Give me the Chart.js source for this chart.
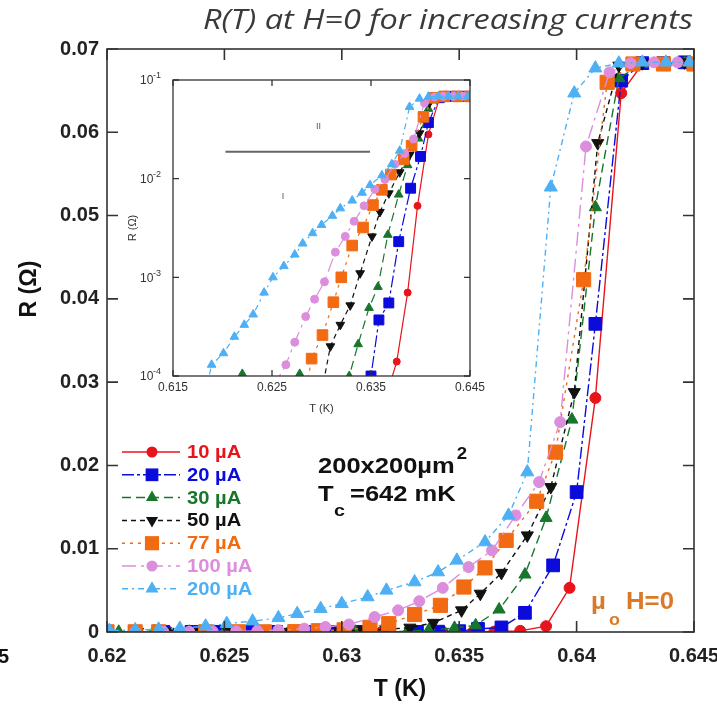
<!DOCTYPE html>
<html lang="en">
<head>
<meta charset="UTF-8">
<title>R(T) at H=0 for increasing currents</title>
<script src="https://cdn.jsdelivr.net/npm/chart.js"></script>
<style>
  body { margin: 0; background: #fff; }
  .wrap { position: relative; width: 717px; height: 708px; background: #fff; overflow: hidden; }
  #main { position: absolute; left: 0; top: 0; }
  #inset { position: absolute; left: 120px; top: 70px; }
</style>
</head>
<body>
<div class="wrap">
  <canvas id="main" width="717" height="708"></canvas>
  <canvas id="inset" width="380" height="350"></canvas>
</div>
<script>
// temperature (K) / resistance (ohm) per bias current
var t10 = [0.6200, 0.6213, 0.6226, 0.6239, 0.6252, 0.6265, 0.6278, 0.6291, 0.6304, 0.6317, 0.6330, 0.6343, 0.6356, 0.6365, 0.6376, 0.6387, 0.6397, 0.6408, 0.6419, 0.6428, 0.6437, 0.6446];
var r10 = [0.00002, 0.00002, 0.00002, 0.00002, 0.00002, 0.00002, 0.00002, 0.00002, 0.00002, 0.00002, 0.00002, 0.00002, 0.00003, 0.00006, 0.00014, 0.0007, 0.0053, 0.0281, 0.0647, 0.0682, 0.0683, 0.0683];

var t20 = [0.6200, 0.6212, 0.6224, 0.6236, 0.6248, 0.6260, 0.6272, 0.6284, 0.6296, 0.6308, 0.6320, 0.6332, 0.6341, 0.6350, 0.6358, 0.6368, 0.6378, 0.6390, 0.6400, 0.6408, 0.6419, 0.6428, 0.6437, 0.6446];
var r20 = [0.00002, 0.00002, 0.00002, 0.00002, 0.00002, 0.00002, 0.00002, 0.00002, 0.00002, 0.00002, 0.00002, 0.00002, 0.00004, 0.0001, 0.00037, 0.00055, 0.0023, 0.0080, 0.0168, 0.0370, 0.0662, 0.0683, 0.0683, 0.0684];

var t30 = [0.6205, 0.6220, 0.6235, 0.6250, 0.6264, 0.6278, 0.6292, 0.6306, 0.6318, 0.6328, 0.6337, 0.6348, 0.6357, 0.6367, 0.6378, 0.6387, 0.6398, 0.6408, 0.6418, 0.6428, 0.6437, 0.6446];
var r30 = [0.00003, 0.000105, 0.00003, 0.00003, 0.00003, 0.000105, 0.00003, 0.00003, 0.00003, 0.0001, 0.00021, 0.00049, 0.0008, 0.0027, 0.0069, 0.0137, 0.0255, 0.0510, 0.0665, 0.0682, 0.0683, 0.0683];

var t50 = [0.6200, 0.6213, 0.6226, 0.6239, 0.6252, 0.6265, 0.6278, 0.6290, 0.6299, 0.6309, 0.6319, 0.6329, 0.6339, 0.6351, 0.6359, 0.6368, 0.6379, 0.6389, 0.6399, 0.6409, 0.6418, 0.6428, 0.6437, 0.6446];
var r50 = [0.00002, 0.00002, 0.00002, 0.00002, 0.00002, 0.00002, 0.00002, 0.00002, 0.00006, 0.0002, 0.00033, 0.00052, 0.0011, 0.0026, 0.0046, 0.0071, 0.0116, 0.0174, 0.0288, 0.0587, 0.0680, 0.0683, 0.0683, 0.0684];

var t77 = [0.6200, 0.6212, 0.6222, 0.6242, 0.6256, 0.6267, 0.6280, 0.6290, 0.6301, 0.6312, 0.6320, 0.6331, 0.6342, 0.6352, 0.6361, 0.6370, 0.6383, 0.6391, 0.6403, 0.6413, 0.6424, 0.6437, 0.6450];
var r77 = [0.00002, 0.00002, 0.00002, 0.00002, 0.00002, 0.00002, 0.00004, 0.00015, 0.00026, 0.00056, 0.0010, 0.0021, 0.0032, 0.0054, 0.0077, 0.0110, 0.0157, 0.0216, 0.0423, 0.0660, 0.0682, 0.0682, 0.0682];

var t100 = [0.6200, 0.6212, 0.6224, 0.6235, 0.6245, 0.6255, 0.6264, 0.6273, 0.6284, 0.6293, 0.6303, 0.6314, 0.6324, 0.6333, 0.6343, 0.6354, 0.6364, 0.6374, 0.6384, 0.6393, 0.6404, 0.6414, 0.6423, 0.6433, 0.6443];
var r100 = [0.00002, 0.00002, 0.00002, 0.00003, 0.00006, 0.00009, 0.00013, 0.00022, 0.0004, 0.0006, 0.0009, 0.0018, 0.0026, 0.0037, 0.0053, 0.0078, 0.0098, 0.0140, 0.0180, 0.0252, 0.0583, 0.0672, 0.0683, 0.0684, 0.0684];

var t200 = [0.6180, 0.6189, 0.6201, 0.6212, 0.6222, 0.6231, 0.6242, 0.6251, 0.6262, 0.6273, 0.6281, 0.6291, 0.6300, 0.6311, 0.6319, 0.6331, 0.6341, 0.6349, 0.6361, 0.6371, 0.6379, 0.6389, 0.6399, 0.6408, 0.6418, 0.6428, 0.6438, 0.6448];
var r200 = [0.00005, 0.00013, 0.00017, 0.00025, 0.00033, 0.00042, 0.0007, 0.0010, 0.0013, 0.0017, 0.0022, 0.0028, 0.0034, 0.0042, 0.0050, 0.0060, 0.0072, 0.0086, 0.0108, 0.0140, 0.0192, 0.0534, 0.0647, 0.0677, 0.0683, 0.0684, 0.0684, 0.0684];

var currents = ['10 \u00b5A', '20 \u00b5A', '30 \u00b5A', '50 \u00b5A', '77 \u00b5A', '100 \u00b5A', '200 \u00b5A'];
var temps = [t10, t20, t30, t50, t77, t100, t200];
var resist = [r10, r20, r30, r50, r77, r100, r200];

var xTicks = [0.62, 0.625, 0.63, 0.635, 0.64, 0.645];
var yTicks = [0, 0.01, 0.02, 0.03, 0.04, 0.05, 0.06, 0.07];
var insetXTicks = [0.615, 0.625, 0.635, 0.645];
var insetYTicks = [1e-4, 1e-3, 1e-2, 1e-1];
var insetYLabels = ['-4', '-3', '-2', '-1'];

// look of each curve
var colors = ['#e8141c', '#0b0bdc', '#17762b', '#111111', '#f26a12', '#dc8edc', '#4db0f4'];
var shapes = ['circle', 'rect', 'triangle', 'triangle', 'rect', 'circle', 'triangle'];
var rotations = [0, 0, 0, 180, 0, 0, 0];
var dashes = [[], [12, 3, 3, 3], [9, 5], [5, 4], [3, 5], [14, 5, 3, 5], [6, 4, 2, 4]];
var sizeMain = [5.5, 9, 7, 7, 10, 5.5, 7.5];
var sizeInset = [3.5, 7, 5, 5, 7.5, 4, 5];

var SANS = '"Liberation Sans", Arial, sans-serif';

function makeSets(sizes, lw) {
    var sets = [];
    for (var i = 0; i < currents.length; i++) {
        var pts = [];
        for (var j = 0; j < temps[i].length; j++) {
            pts.push({ x: temps[i][j], y: resist[i][j] });
        }
        sets.push({
            label: currents[i],
            data: pts,
            borderColor: colors[i],
            backgroundColor: colors[i],
            borderWidth: lw,
            borderDash: dashes[i],
            pointStyle: shapes[i],
            pointRotation: rotations[i],
            pointRadius: sizes[i],
            pointBorderWidth: 1,
            pointBorderColor: colors[i],
            pointBackgroundColor: colors[i],
            tension: 0,
            order: currents.length - i
        });
    }
    return sets;
}

function marker(ctx, shape, x, y, r, rot) {
    ctx.beginPath();
    if (shape === 'circle') {
        ctx.arc(x, y, r, 0, Math.PI * 2);
    } else if (shape === 'rect') {
        var s = r * Math.SQRT1_2;
        ctx.rect(x - s, y - s, 2 * s, 2 * s);
    } else {
        var a = rot * Math.PI / 180;
        for (var k = 0; k < 3; k++) {
            var px = x + Math.sin(a) * r, py = y - Math.cos(a) * r;
            if (k === 0) ctx.moveTo(px, py); else ctx.lineTo(px, py);
            a += 2 * Math.PI / 3;
        }
        ctx.closePath();
    }
    ctx.fill();
}

// wide bold text, drawn slightly stretched sideways
function wideText(ctx, txt, x, y, size, stretch) {
    ctx.save();
    ctx.font = 'bold ' + size + 'px ' + SANS;
    ctx.translate(x, y);
    ctx.scale(stretch, 1);
    ctx.fillText(txt, 0, 0);
    var w = ctx.measureText(txt).width * stretch;
    ctx.restore();
    return w;
}

// frame with inward ticks on all four sides
function drawFrame(chart, len, lw) {
    var ctx = chart.ctx, a = chart.chartArea;
    var xs = chart.scales.x, ys = chart.scales.y;
    ctx.save();
    ctx.strokeStyle = '#333';
    ctx.lineWidth = lw;
    ctx.strokeRect(a.left, a.top, a.right - a.left, a.bottom - a.top);
    ctx.beginPath();
    xs.ticks.forEach(function (t) {
        var px = xs.getPixelForValue(t.value);
        ctx.moveTo(px, a.bottom); ctx.lineTo(px, a.bottom - len);
        ctx.moveTo(px, a.top); ctx.lineTo(px, a.top + len);
    });
    ys.ticks.forEach(function (t) {
        var py = ys.getPixelForValue(t.value);
        ctx.moveTo(a.left, py); ctx.lineTo(a.left + len, py);
        ctx.moveTo(a.right, py); ctx.lineTo(a.right - len, py);
    });
    ctx.stroke();
    ctx.restore();
}

var mainDecor = {
    id: 'mainDecor',
    afterDraw: function (chart) {
        var ctx = chart.ctx;
        drawFrame(chart, 11, 1.6);
        ctx.save();

        // title: 27.5px italic, stretched to run from x=203 to x=693
        var title = 'R(T) at H=0 for increasing currents';
        ctx.font = 'italic 27.5px "Open Sans", sans-serif';
        var sx = 490 / ctx.measureText(title).width;
        ctx.fillStyle = '#3a3a3a';
        ctx.textAlign = 'right';
        ctx.textBaseline = 'middle';
        ctx.save();
        ctx.translate(693, 21);
        ctx.scale(sx, 1);
        ctx.fillText(title, 0, 0);
        ctx.restore();

        // axis titles
        ctx.fillStyle = '#111';
        ctx.font = 'bold 23px ' + SANS;
        ctx.textAlign = 'center';
        ctx.fillText('T (K)', 400, 690);
        ctx.save();
        ctx.translate(30, 289);
        ctx.rotate(-Math.PI / 2);
        ctx.fillText('R (\u03a9)', 0, 0);
        ctx.restore();

        // clipped label at far left
        ctx.font = 'bold 20px ' + SANS;
        ctx.textAlign = 'left';
        ctx.fillText('5', -2, 657);

        // legend
        for (var i = 0; i < currents.length; i++) {
            var y = 452 + i * 22.8;
            ctx.strokeStyle = colors[i];
            ctx.fillStyle = colors[i];
            ctx.lineWidth = 1.5;
            ctx.setLineDash(dashes[i]);
            ctx.beginPath();
            ctx.moveTo(122, y); ctx.lineTo(180, y);
            ctx.stroke();
            ctx.setLineDash([]);
            marker(ctx, shapes[i], 152, y, sizeMain[i], rotations[i]);
            wideText(ctx, currents[i], 187, y + 1, 18, 1.12);
        }

        // sample notes
        ctx.fillStyle = '#111';
        var w = wideText(ctx, '200x200\u00b5m', 318, 467, 22, 1.16);
        wideText(ctx, '2', 318 + w + 2, 455, 16, 1.16);
        wideText(ctx, 'T', 318, 495, 22, 1.16);
        wideText(ctx, 'c', 334, 511, 17, 1.16);
        wideText(ctx, '=642 mK', 350, 495, 22, 1.16);

        ctx.fillStyle = '#d97a2a';
        wideText(ctx, '\u00b5', 591, 603, 23, 1.12);
        wideText(ctx, 'o', 609, 621, 16, 1.12);
        wideText(ctx, 'H=0', 626, 603, 23, 1.12);
        ctx.restore();
    }
};

new Chart(document.getElementById('main'), {
    type: 'line',
    data: { datasets: makeSets(sizeMain, 1.4) },
    options: {
        responsive: false,
        animation: false,
        layout: { padding: { top: 49, right: 23, left: 0, bottom: 0 } },
        plugins: { legend: { display: false }, tooltip: { enabled: false } },
        scales: {
            x: {
                type: 'linear', min: 0.62, max: 0.645,
                afterBuildTicks: function (s) { s.ticks = xTicks.map(function (v) { return { value: v }; }); },
                afterFit: function (s) { s.height = 76; s.paddingLeft = 0; s.paddingRight = 0; },
                grid: { display: false, drawTicks: false },
                border: { display: false },
                ticks: {
                    color: '#222', padding: 12, maxRotation: 0,
                    font: { family: SANS, size: 20, weight: 'bold' },
                    callback: function (v) { return String(v); }
                }
            },
            y: {
                type: 'linear', min: 0, max: 0.07,
                afterBuildTicks: function (s) { s.ticks = yTicks.map(function (v) { return { value: v }; }); },
                afterFit: function (s) { s.width = 107; s.paddingTop = 0; s.paddingBottom = 0; },
                grid: { display: false, drawTicks: false },
                border: { display: false },
                ticks: {
                    color: '#222', padding: 8,
                    font: { family: SANS, size: 20, weight: 'bold' },
                    callback: function (v) { return String(v); }
                }
            }
        }
    },
    plugins: [mainDecor]
});

var insetDecor = {
    id: 'insetDecor',
    afterDraw: function (chart) {
        var ctx = chart.ctx, a = chart.chartArea;
        var xs = chart.scales.x, ys = chart.scales.y;
        drawFrame(chart, 6, 1.3);
        ctx.save();
        ctx.fillStyle = '#333';
        ctx.textBaseline = 'middle';
        // decade labels
        for (var i = 0; i < insetYTicks.length; i++) {
            var py = ys.getPixelForValue(insetYTicks[i]);
            ctx.font = '12px ' + SANS;
            ctx.textAlign = 'left';
            ctx.fillText('10', a.left - 33, py + 1);
            ctx.font = '9px ' + SANS;
            ctx.fillText(insetYLabels[i], a.left - 20, py - 4);
        }
        // axis titles
        ctx.font = '11px ' + SANS;
        ctx.textAlign = 'center';
        ctx.fillText('T (K)', (a.left + a.right) / 2, 339);
        ctx.save();
        ctx.translate(13, 158);
        ctx.rotate(-Math.PI / 2);
        ctx.fillText('R (\u03a9)', 0, 0);
        ctx.restore();
        // regime boundary and labels
        ctx.strokeStyle = '#666';
        ctx.lineWidth = 2;
        ctx.beginPath();
        var yb = ys.getPixelForValue(0.0187);
        ctx.moveTo(xs.getPixelForValue(0.6203), yb);
        ctx.lineTo(xs.getPixelForValue(0.6349), yb);
        ctx.stroke();
        ctx.fillStyle = '#555';
        ctx.font = '9px ' + SANS;
        ctx.fillText('II', xs.getPixelForValue(0.6297), ys.getPixelForValue(0.034));
        ctx.fillText('I', xs.getPixelForValue(0.6261), ys.getPixelForValue(0.0066));
        ctx.restore();
    }
};

new Chart(document.getElementById('inset'), {
    type: 'line',
    data: { datasets: makeSets(sizeInset, 1.2) },
    options: {
        responsive: false,
        animation: false,
        layout: { padding: { top: 10, right: 30, left: 0, bottom: 0 } },
        plugins: { legend: { display: false }, tooltip: { enabled: false } },
        scales: {
            x: {
                type: 'linear', min: 0.615, max: 0.645,
                afterBuildTicks: function (s) { s.ticks = insetXTicks.map(function (v) { return { value: v }; }); },
                afterFit: function (s) { s.height = 44; s.paddingLeft = 0; s.paddingRight = 0; },
                grid: { display: false, drawTicks: false },
                border: { display: false },
                ticks: {
                    color: '#333', padding: 4, maxRotation: 0,
                    font: { family: SANS, size: 12 },
                    callback: function (v) { return String(v); }
                }
            },
            y: {
                type: 'logarithmic', min: 1e-4, max: 1e-1,
                afterBuildTicks: function (s) { s.ticks = insetYTicks.map(function (v) { return { value: v }; }); },
                afterFit: function (s) { s.width = 53; s.paddingTop = 0; s.paddingBottom = 0; },
                grid: { display: false, drawTicks: false },
                border: { display: false },
                ticks: { display: false }
            }
        }
    },
    plugins: [insetDecor]
});
</script>
</body>
</html>
